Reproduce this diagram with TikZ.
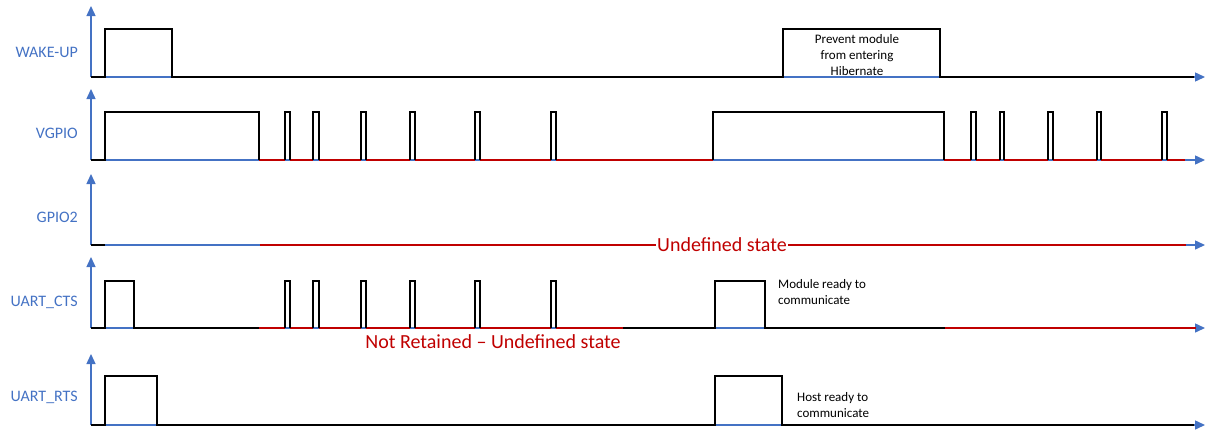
\documentclass[tikz,border=0pt]{standalone}
\usepackage{fontspec}
\setmainfont{Carlito}
\usetikzlibrary{arrows.meta}
\definecolor{axisblue}{HTML}{4472C4}
\definecolor{undef}{HTML}{C00000}
\begin{document}
\begin{tikzpicture}[x=1pt,y=-1pt,
  axis/.style={axisblue, line width=1.4pt, -{Triangle[length=10pt,width=9pt]}},
  sig/.style={black, line width=2.4pt},
  undefsig/.style={undef, line width=2.4pt},
  rowlabel/.style={text=axisblue, anchor=east, inner sep=0pt, font=\fontsize{16}{18}\selectfont},
  note/.style={inner sep=0pt, font=\fontsize{13}{16}\selectfont},
  bigred/.style={text=undef, inner sep=0pt, font=\fontsize{20}{22}\selectfont}]
\useasboundingbox (0,0) rectangle (1206,431);

% time axes, one per signal (baselines 77, 160, 245, 328, 425)
\foreach \b in {77,160,245,328,425} {
  \draw[axis] (91,\b) -- (91,\b-71);
  \draw[axis] (91,\b) -- (1205,\b);
}

% row labels
\node[rowlabel] (lwake) at (78,52)  {WAKE-UP};
\node[rowlabel] (lvgpio) at (78,133) {VGPIO};
\node[rowlabel] (lgpio) at (78,217) {GPIO2};
\node[rowlabel] (lcts) at (78,302)  {UART\_CTS};
\node[rowlabel] (lrts) at (78,397)  {UART\_RTS};

% WAKE-UP
\draw[sig] (91,77) -- (105,77) -- (105,29) -- (172,29) -- (172,77) -- (783,77)
  -- (783,29) -- (940,29) -- (940,77) -- (1194,77);
\node[note, align=center] (wakenote) at (857,55)
  {Prevent module\\from entering\\Hibernate};

% VGPIO
\foreach \a/\c in {259/285,290/313,319/361,366/410,415/475,480/551,556/713,
                   944/971,976/1000,1004/1048,1053/1097,1101/1162,1167/1185}
  \draw[undefsig] (\a,160) -- (\c,160);
\draw[sig] (91,160) -- (105,160) -- (105,112) -- (259,112) -- (259,160);
\draw[sig] (713,160) -- (713,112) -- (944,112) -- (944,160);
\foreach \a/\c in {285/290,313/319,361/366,410/415,475/480,551/556,
                   971/976,1000/1004,1048/1053,1097/1101,1162/1167}
  \draw[sig] (\a,160) -- (\a,112) -- (\c,112) -- (\c,160);

% GPIO2
\draw[sig] (91,245) -- (105,245);
\node[bigred, fill=white, inner xsep=1pt] (gpioundef) at (722,245) {Undefined state};
\draw[undefsig] (260,245) -- (gpioundef.west);
\draw[undefsig] (gpioundef.east) -- (1186,245);

% UART_CTS
\foreach \a/\c in {259/285,290/313,319/361,366/410,415/475,480/551,556/623,945/1196}
  \draw[undefsig] (\a,328) -- (\c,328);
\draw[sig] (91,328) -- (105,328) -- (105,281) -- (134,281) -- (134,328) -- (259,328);
\draw[sig] (623,328) -- (715,328) -- (715,281) -- (765,281) -- (765,328) -- (945,328);
\foreach \a/\c in {285/290,313/319,361/366,410/415,475/480,551/556}
  \draw[sig] (\a,328) -- (\a,281) -- (\c,281) -- (\c,328);
\node[note, align=left, anchor=west] (ctsnote) at (778,292)
  {Module ready to\\communicate};
\node[bigred] (ctsundef) at (493,342) {Not Retained – Undefined state};

% UART_RTS
\draw[sig] (91,425) -- (105,425) -- (105,376) -- (157,376) -- (157,425) -- (715,425)
  -- (715,376) -- (782,376) -- (782,425) -- (1194,425);
\node[note, align=left, anchor=west] (rtsnote) at (797,405)
  {Host ready to\\communicate};
\end{tikzpicture}
\end{document}
